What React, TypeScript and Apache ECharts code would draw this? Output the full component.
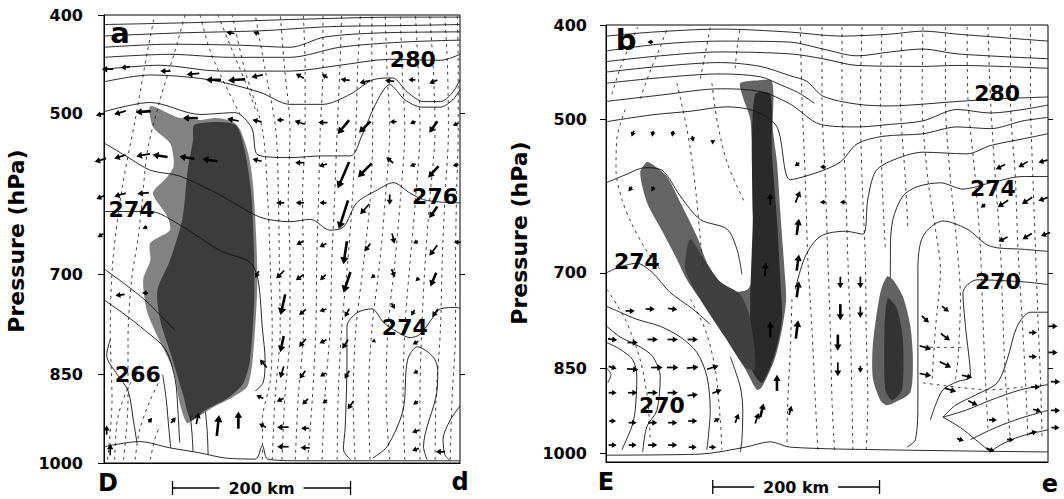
import React, { useEffect, useRef } from "react";
import * as echarts from "echarts";

type Pt = [number, number];
type Arrow = [number, number, number, number];
type Label = [number, number, string];

const KAPPA = 0.286;
const ex = (p: number) => Math.pow(p / 1000, KAPPA);
const unEx = (v: number) => 1000 * Math.pow(v, 1 / KAPPA);

const PRESSURE_TICKS = [400, 500, 700, 850, 1000];
const RIGHT_TICKS = [500, 700, 850];
const P_TOP = 400;
const P_BOTTOM_A = 1000;
const P_BOTTOM_B = 1017;
const X_MAX_A = 400; // km
const X_MAX_B = 530; // km
const SCALE_KM = 200;
const SCALE_START_A = 77;
const SCALE_START_B = 128;

// ---------- panel a (section D-d) ----------
const A_SOLID: Pt[][] = [
  [[0, 409], [108, 407], [220, 404], [333, 402], [400, 402]],
  [[0, 420], [85, 417], [175, 415], [254, 411], [333, 410], [400, 409]],
  [[0, 431], [74, 428], [153, 429], [209, 431], [248, 421], [310, 417], [400, 416]],
  [[0, 441], [74, 438], [142, 441], [209, 441], [265, 431], [333, 426], [400, 424]],
  [[0, 453], [63, 449], [130, 455], [209, 455], [265, 449], [321, 443], [378, 444], [400, 438]],
  [[0, 466], [52, 459], [119, 464], [175, 477], [209, 490], [246, 490], [277, 479], [302, 464], [324, 462], [341, 477], [359, 487], [378, 487], [391, 478], [400, 464]],
  [[0, 498], [52, 488], [108, 501], [147, 499], [166, 516], [173, 547], [209, 550], [246, 548], [277, 548], [290, 524], [305, 490], [321, 469], [338, 485], [357, 493], [378, 493], [392, 485], [400, 474]],
  [[0, 533], [26, 549], [52, 565], [85, 572], [130, 595], [175, 623], [209, 629], [232, 626], [254, 640], [269, 636], [284, 605], [307, 589], [325, 580], [344, 593], [359, 601], [378, 604], [400, 605]],
  [[0, 616], [52, 616], [85, 633], [130, 667], [164, 683], [173, 707], [178, 779], [181, 827], [179, 862], [170, 876]],
  [[277, 994], [269, 976], [271, 937], [273, 827], [273, 775], [284, 755], [301, 749], [314, 769], [329, 783], [344, 792], [355, 787], [370, 761], [378, 749], [397, 747], [400, 749]],
  [[302, 991], [318, 971], [336, 908], [341, 827], [352, 806], [370, 822], [375, 843], [374, 878], [359, 971], [363, 994]],
  [[400, 901], [389, 925], [381, 958], [383, 985], [389, 996]],
  [[0, 692], [24, 714], [46, 736], [63, 758], [80, 781]],
  [[0, 736], [24, 758], [46, 781], [69, 810], [80, 858], [83, 908], [85, 964]],
  [[7, 795], [3, 819], [15, 850], [27, 876], [33, 925], [37, 964]],
  [[66, 850], [70, 891], [73, 942], [75, 973]],
  [[97, 917], [99, 950], [100, 980]],
  [[114, 911], [116, 945], [117, 985]],
];
const A_GROUND: Pt[] = [[0, 971], [40, 962], [74, 973], [108, 982], [136, 991], [170, 993], [178, 969], [184, 993], [220, 996], [333, 996], [400, 996]];
const A_DASHED: Pt[][] = [
  [[4, 994], [9, 891], [7, 779], [10, 681], [20, 589], [35, 507], [49, 434], [57, 400]],
  [[22, 994], [27, 891], [27, 795], [31, 707], [38, 653], [43, 601], [49, 541], [63, 485], [80, 434], [91, 400]],
  [[52, 994], [57, 958], [63, 934]],
  [[12, 994], [15, 925], [24, 881], [40, 835]],
  [[35, 994], [40, 942], [52, 891], [63, 858]],
  [[108, 400], [119, 434], [136, 469], [153, 501]],
  [[128, 400], [144, 434], [160, 469], [171, 498]],
  [[178, 994], [178, 925], [187, 858], [189, 779], [187, 694], [184, 601], [178, 518], [158, 453], [144, 400]],
  [[189, 994], [192, 891], [198, 779], [197, 681], [196, 601], [193, 518], [181, 453], [170, 400]],
  [[200, 994], [203, 891], [209, 779], [209, 681], [207, 601], [209, 518], [203, 453], [198, 400]],
  [[215, 994], [218, 891], [224, 779], [224, 681], [223, 601], [226, 518], [226, 453], [224, 400]],
  [[229, 994], [234, 891], [238, 779], [239, 681], [241, 601], [243, 518], [246, 453], [246, 400]],
  [[245, 994], [248, 891], [254, 779], [256, 681], [259, 601], [262, 518], [265, 453], [267, 400]],
  [[262, 994], [263, 891], [267, 779], [274, 681], [279, 601], [283, 518], [285, 453], [288, 400]],
  [[282, 994], [280, 891], [283, 779], [292, 681], [299, 601], [302, 518], [301, 453], [301, 400]],
  [[299, 994], [297, 891], [301, 779], [310, 681], [316, 601], [321, 518], [318, 453], [316, 400]],
  [[321, 994], [317, 891], [319, 779], [327, 681], [333, 601], [338, 518], [335, 453], [333, 400]],
  [[338, 994], [336, 891], [338, 779], [344, 681], [350, 601], [355, 518], [353, 453], [350, 400]],
  [[355, 994], [355, 891], [357, 779], [361, 681], [366, 601], [372, 518], [370, 453], [366, 400]],
  [[372, 994], [373, 891], [378, 779], [380, 681], [383, 601], [387, 518], [386, 453], [383, 400]],
  [[389, 994], [391, 891], [395, 779], [395, 681], [396, 601], [398, 518], [398, 453], [397, 400]],
];
const A_SHADE_OUTER: Pt[] = [[52, 492], [82, 504], [108, 507], [127, 505], [145, 509], [153, 518], [162, 545], [167, 577], [170, 626], [172, 681], [172, 726], [167, 827], [161, 869], [145, 886], [123, 903], [100, 925], [93, 930], [85, 896], [78, 843], [60, 790], [48, 751], [44, 707], [52, 681], [52, 657], [74, 640], [71, 622], [55, 593], [71, 573], [78, 561], [78, 549], [74, 533], [55, 515]];
const A_SHADE_INNER: Pt[] = [[102, 512], [147, 512], [158, 541], [166, 601], [169, 722], [164, 827], [156, 865], [139, 888], [114, 908], [98, 925], [89, 883], [76, 821], [63, 765], [60, 722], [74, 681], [88, 626], [94, 565], [100, 530]];
const A_ARROWS: Arrow[] = [
  [4, 453, -10, 0], [24, 451, -8, -1], [69, 455, -9, 0], [100, 458, -11, -1], [123, 464, -13, 0], [149, 464, -15, -1], [172, 460, -10, -2],
  [142, 417, -7, 1], [171, 417, -5, 2], [220, 460, -7, 4], [248, 460, -5, 3], [271, 464, -8, 1], [293, 466, -9, -2], [321, 465, -8, 1], [346, 464, -6, 0], [370, 466, -7, -3],
  [-4, 501, -8, -2], [18, 499, -10, -3], [44, 498, -13, -1], [97, 505, -13, 0], [145, 507, -10, 2], [172, 508, -8, 2], [198, 507, -6, 0],
  [220, 510, -9, 3], [246, 510, -8, 0], [269, 515, -10, -12], [293, 515, -10, -10], [325, 509, -6, 0], [347, 510, -5, -2], [370, 515, -7, -10], [395, 512, -5, -2],
  [-4, 553, -10, -3], [18, 549, -10, -3], [44, 547, -12, -2], [63, 548, -13, 2], [93, 550, -13, 2], [119, 553, -13, 2], [172, 553, -8, 2],
  [220, 556, -8, 0], [246, 559, -7, -2], [269, 571, -10, -23], [293, 565, -12, -12], [321, 553, -6, 5], [347, 559, -5, -2], [370, 567, -9, -10], [395, 559, -5, -1],
  [-4, 598, -7, -3], [18, 595, -10, -3], [44, 593, -10, -1], [198, 605, -7, 0],
  [220, 605, -7, 0], [246, 605, -6, 0], [269, 620, -8, -25], [293, 613, -8, -9], [321, 601, 0, -9], [370, 617, -7, -10],
  [-4, 647, -5, -3], [46, 637, -4, -2], [220, 657, -6, -3], [246, 660, -6, -3], [271, 670, -3, -20], [296, 663, -5, -7], [325, 651, 2, -9], [350, 656, -4, -2], [370, 667, -7, -9], [397, 656, -6, 0],
  [220, 704, -7, -5], [246, 704, -5, -5], [273, 711, -6, -18], [302, 703, -3, -3], [325, 698, 3, -7], [352, 707, -3, -3], [370, 707, -5, -12], [172, 700, -3, -6], [198, 700, -7, -7],
  [18, 729, -8, -1], [46, 726, -5, 0],
  [223, 754, -6, -5], [246, 751, -6, -2], [273, 755, -4, -7], [325, 745, 3, -5], [347, 755, -3, -5], [372, 755, -5, -7], [201, 743, -4, -18],
  [223, 800, -6, -7], [246, 798, -6, -3], [271, 802, -5, -8], [302, 798, -2, -1], [350, 800, -5, -3], [200, 802, -3, -14], [179, 832, -6, 7],
  [223, 850, -5, -7], [246, 850, -5, -3], [273, 850, -4, -7], [350, 846, -4, -2], [200, 846, -3, -10],
  [226, 894, -5, -5], [248, 894, -4, -3], [277, 900, -5, -7], [350, 896, -4, -3], [175, 886, -6, 3], [198, 891, -6, -3],
  [226, 939, -7, 0], [350, 944, -6, -2], [201, 937, -10, 0], [178, 934, -6, 3],
  [226, 973, -8, 0], [350, 976, -6, -2], [201, 971, -10, 0], [378, 980, -8, 0],
  [128, 934, 2, 18], [151, 925, 0, 15], [105, 922, 2, 10], [3, 942, 0, 8], [52, 925, 3, 4], [78, 925, 4, 5], [7, 976, 0, 10],
];
const A_LABELS: Label[] = [[347, 443, "280"], [372, 597, "276"], [31, 614, "274"], [38, 850, "266"], [338, 777, "274"]];

// ---------- panel b (section E-e) ----------
const B_SOLID: Pt[][] = [
  [[0, 411], [56, 407], [137, 404], [221, 407], [281, 411], [341, 409], [380, 406], [421, 409], [530, 416]],
  [[0, 426], [65, 419], [137, 416], [221, 417], [260, 424], [301, 431], [341, 427], [380, 424], [421, 429], [530, 434]],
  [[0, 437], [65, 431], [137, 427], [221, 429], [260, 434], [301, 441], [380, 442], [421, 441], [530, 444]],
  [[0, 448], [65, 442], [137, 438], [185, 442], [221, 452], [241, 458], [260, 474], [301, 483], [341, 485], [380, 483], [421, 480], [473, 477], [530, 475]],
  [[0, 460], [65, 454], [137, 450], [185, 453], [210, 462], [230, 470], [250, 482]],
  [[0, 480], [65, 473], [137, 466], [185, 469], [221, 483], [257, 506], [301, 509], [341, 506], [380, 502], [421, 489], [461, 493], [500, 489], [530, 484]],
  [[0, 503], [56, 495], [101, 491], [145, 486], [179, 491], [205, 509], [221, 573], [253, 564], [281, 551], [301, 529], [332, 520], [380, 517], [421, 509], [461, 511], [500, 502], [530, 498]],
  [[530, 517], [500, 523], [461, 531], [433, 541], [380, 539], [341, 550], [323, 563], [314, 598], [308, 645], [287, 641], [257, 648], [239, 676], [227, 724]],
  [[0, 577], [23, 567], [47, 558], [67, 561], [89, 594], [113, 625], [145, 638], [157, 666], [163, 702]],
  [[530, 569], [500, 569], [461, 577], [428, 585], [401, 577], [373, 582], [356, 594], [344, 625], [341, 666], [341, 707]],
  [[530, 669], [500, 666], [461, 662], [433, 638], [404, 627], [380, 648], [374, 695], [374, 786], [374, 904], [371, 975], [361, 989]],
  [[530, 717], [500, 713], [445, 710], [428, 729], [431, 781], [437, 863], [421, 872], [404, 886], [395, 913], [389, 939]],
  [[530, 759], [509, 759], [493, 781], [481, 835], [469, 874], [443, 895], [419, 913], [404, 934]],
  [[530, 877], [497, 886], [461, 904], [431, 922], [404, 934]],
  [[530, 922], [497, 936], [467, 953], [437, 975]],
  [[404, 934], [425, 953], [443, 975], [461, 998]],
  [[530, 957], [497, 969], [473, 985], [461, 998]],
  [[0, 700], [17, 691], [37, 686], [56, 700], [77, 729], [104, 754], [125, 778]],
  [[1, 750], [17, 759], [37, 770], [65, 781], [89, 798], [109, 823], [121, 863], [125, 922], [121, 994]],
  [[1, 781], [17, 798], [41, 814], [56, 830], [65, 863], [61, 922], [49, 951], [44, 998]],
  [[1, 807], [17, 818], [32, 835], [37, 863], [35, 922], [31, 951], [19, 994]],
  [[149, 830], [161, 881], [164, 922], [163, 975], [161, 998]],
  [[0, 848], [6, 860], [2, 874]],
];
const B_GROUND: Pt[] = [[0, 1004], [113, 1002], [167, 989], [197, 979], [221, 989], [337, 994], [530, 998]];
const B_DASHED: Pt[][] = [
  [[23, 489], [13, 523], [12, 561], [19, 598], [31, 631], [49, 669], [67, 698]],
  [[85, 460], [96, 506], [103, 548], [108, 591], [112, 638], [116, 688]],
  [[127, 460], [134, 506], [146, 554], [167, 604]],
  [[7, 472], [17, 444], [29, 419], [38, 402]],
  [[41, 477], [53, 447], [65, 422], [74, 402]],
  [[113, 455], [119, 429], [125, 402]],
  [[155, 444], [157, 424], [161, 402]],
  [[233, 402], [235, 477], [239, 573], [242, 680], [247, 786], [251, 904], [254, 994]],
  [[259, 402], [259, 477], [263, 573], [266, 680], [269, 786], [271, 904], [274, 994]],
  [[283, 402], [283, 477], [287, 573], [290, 680], [293, 786], [295, 904], [296, 994]],
  [[307, 402], [305, 477], [307, 573], [311, 680], [312, 786], [314, 904], [312, 994]],
  [[331, 402], [329, 477], [331, 573], [335, 666]],
  [[355, 402], [353, 477], [359, 573], [362, 638]],
  [[380, 402], [379, 477], [386, 573], [395, 638], [401, 695], [395, 786], [391, 868]],
  [[407, 402], [407, 477], [413, 573], [419, 638], [425, 739], [422, 835], [419, 868]],
  [[433, 402], [434, 477], [443, 573], [449, 666], [452, 770], [455, 868], [458, 957]],
  [[458, 402], [461, 477], [467, 573], [473, 666], [476, 770], [479, 868], [485, 975]],
  [[485, 402], [485, 477], [491, 573], [494, 666], [499, 770], [503, 868], [506, 975]],
  [[509, 402], [509, 477], [512, 573], [515, 666], [518, 770], [521, 868], [523, 975]],
  [[380, 814], [407, 815], [428, 815]],
  [[380, 874], [425, 882], [461, 886], [500, 881]],
  [[1, 724], [23, 770], [41, 835], [50, 904], [53, 975]],
  [[101, 739], [119, 786], [131, 851], [137, 939], [139, 994]],
  [[223, 739], [221, 818], [218, 904], [217, 985]],
];
const B_SHADE_OUTER: Pt[] = [[49, 551], [56, 554], [73, 569], [89, 602], [109, 648], [121, 685], [134, 710], [152, 727], [170, 724], [179, 695], [176, 615], [175, 551], [173, 500], [163, 472], [161, 460], [179, 457], [199, 458], [200, 511], [205, 551], [209, 615], [214, 695], [216, 739], [211, 786], [202, 835], [187, 881], [181, 886], [169, 856], [149, 807], [121, 754], [97, 710], [85, 680], [68, 642], [49, 602], [41, 564]];
const B_SHADE_INNER: Pt[] = [[179, 472], [197, 472], [199, 541], [205, 625], [209, 710], [211, 770], [202, 827], [187, 874], [175, 851], [173, 739], [176, 625], [175, 541]];
const B_SHADE_INNER2: Pt[] = [[101, 652], [119, 683], [137, 713], [161, 732], [173, 770], [179, 851], [167, 848], [143, 799], [113, 739], [95, 695]];
const B_BLOB_OUTER: Pt[] = [[337, 705], [344, 710], [356, 735], [365, 781], [368, 835], [365, 890], [349, 906], [337, 913], [329, 904], [320, 866], [320, 810], [329, 729]];
const B_BLOB_INNER: Pt[] = [[338, 738], [349, 754], [356, 802], [355, 886], [343, 904], [335, 886], [334, 786]];
const B_ARROWS: Arrow[] = [
  [29, 757, 8, 0], [53, 754, 8, 0], [80, 754, 8, -1],
  [8, 802, 8, -1], [32, 807, 9, 0], [56, 802, 9, 0], [80, 802, 9, 0], [104, 802, 9, 0],
  [8, 848, 7, -2], [32, 851, 10, -1], [61, 848, 10, 0], [80, 848, 10, 0], [104, 848, 10, 1], [128, 848, 10, 3],
  [8, 891, 7, 0], [32, 891, 8, 0], [56, 891, 9, 0], [80, 891, 9, 0], [104, 895, 9, 1], [133, 889, 8, 3],
  [8, 941, 6, 0], [32, 944, 7, 0], [56, 944, 8, 0], [80, 944, 8, 0], [104, 941, 8, 0], [133, 939, 5, 3], [157, 936, 3, 8], [181, 936, 3, 9],
  [8, 985, 7, 0], [32, 985, 7, 0], [56, 985, 8, 0], [80, 985, 8, 0], [104, 989, 7, 0], [128, 989, 6, 0],
  [205, 874, 0, 14], [187, 922, 3, 12], [197, 786, 0, 14], [191, 695, 1, 12], [197, 598, 0, 10], [230, 724, 2, 14], [229, 786, 2, 16], [230, 635, 2, 14], [230, 685, 2, 14], [230, 595, 4, 10], [221, 922, 2, 8],
  [281, 714, 0, -10], [305, 714, 0, -10], [281, 759, 0, -14], [305, 759, 0, -10], [278, 807, 0, -14], [278, 851, 0, -12], [305, 851, 0, -6],
  [383, 770, 6, -6], [407, 754, 6, -5], [407, 798, 8, -6], [383, 815, 10, -3], [407, 843, 10, -5], [383, 860, 10, -2], [413, 886, 10, -3], [433, 863, 9, -2], [440, 909, 8, -4],
  [512, 791, 7, 0], [536, 781, 8, 0], [512, 830, 7, 0], [536, 823, 8, 0], [515, 881, 8, 0], [539, 872, 8, 0], [517, 922, 7, -2], [539, 922, 8, 0], [512, 962, 7, 2], [539, 953, 7, 0], [464, 939, 7, 0], [461, 994, 7, -3], [485, 975, 6, 0], [425, 975, 6, -2],
  [473, 557, -8, -4], [500, 554, -8, -5], [524, 550, -8, -2],
  [452, 607, -4, -3], [476, 604, -9, -6], [505, 600, -9, -6], [524, 598, -8, -3],
  [476, 652, -8, -4], [505, 648, -8, -5], [527, 645, -8, -3],
  [229, 554, -4, -3], [260, 557, -5, 0], [284, 602, -5, 0], [260, 602, -5, 0],
  [32, 517, -2, -5], [56, 517, -1, -5], [80, 517, -1, -5], [104, 523, 1, -5], [128, 527, 0, -4], [29, 585, -3, -4], [56, 585, -2, -4], [53, 417, -5, 0],
];
const B_LABELS: Label[] = [[469, 471, "280"], [464, 584, "274"], [37, 683, "274"], [67, 913, "270"], [470, 713, "270"]];

const FONT = "DejaVu Sans";
const ARROW_SCALE = 1.15;

function lineSeries(lines: Pt[][], gi: number, dashed: boolean): any[] {
  return lines.map((l) => ({
    type: "line",
    xAxisIndex: gi,
    yAxisIndex: gi,
    data: l.map(([x, p]) => [x, ex(p)]),
    showSymbol: false,
    symbol: "none",
    smooth: 0.3,
    silent: true,
    clip: true,
    z: dashed ? 3 : 4,
    lineStyle: {
      color: dashed ? "#2a2a2a" : "#111",
      width: dashed ? 0.9 : 0.9,
      type: dashed ? [3, 4] : "solid",
    },
  }));
}

function polySeries(poly: Pt[], gi: number, color: string, z: number): any {
  return {
    type: "custom",
    xAxisIndex: gi,
    yAxisIndex: gi,
    silent: true,
    z,
    data: [[poly[0][0], ex(poly[0][1])]],
    encode: { x: 0, y: 1 },
    renderItem: (_p: any, api: any) => ({
      type: "polygon",
      shape: { points: poly.map(([x, p]) => api.coord([x, ex(p)])), smooth: 0.25 },
      style: { fill: color },
    }),
  };
}

function arrowSeries(arrows: Arrow[], gi: number): any {
  return {
    type: "custom",
    xAxisIndex: gi,
    yAxisIndex: gi,
    silent: true,
    clip: false,
    z: 5,
    data: arrows.map(([x, p, u, w]) => [x, ex(p), u, w]),
    encode: { x: 0, y: 1 },
    renderItem: (_p: any, api: any) => {
      const c = api.coord([api.value(0), api.value(1)]);
      const u = (api.value(2) as number) * ARROW_SCALE;
      const w = (api.value(3) as number) * ARROW_SCALE;
      const len = Math.hypot(u, w) || 1;
      const dx = u, dy = -w;
      const x0 = c[0] - dx / 2, y0 = c[1] - dy / 2;
      const x1 = c[0] + dx / 2, y1 = c[1] + dy / 2;
      const ux = dx / len, uy = dy / len;
      const h = Math.min(7, 3.4 + len * 0.17);
      const hw = h * 0.6;
      const bx = x1 - ux * h, by = y1 - uy * h;
      const lw = len > 14 ? 2.6 : 1.7;
      return {
        type: "group",
        children: [
          { type: "line", shape: { x1: x0, y1: y0, x2: bx + ux, y2: by + uy }, style: { stroke: "#000", lineWidth: lw } },
          {
            type: "polygon",
            shape: { points: [[x1, y1], [bx - uy * hw, by + ux * hw], [bx + uy * hw, by - ux * hw]] },
            style: { fill: "#000" },
          },
        ],
      };
    },
  };
}

function labelSeries(labels: Label[], gi: number): any {
  return {
    type: "custom",
    xAxisIndex: gi,
    yAxisIndex: gi,
    silent: true,
    clip: false,
    z: 7,
    data: labels.map(([x, p, t]) => [x, ex(p), t]),
    encode: { x: 0, y: 1 },
    renderItem: (_p: any, api: any) => {
      const c = api.coord([api.value(0), api.value(1)]);
      return {
        type: "text",
        x: c[0],
        y: c[1],
        style: {
          text: String(api.value(2)),
          fill: "#000",
          fontSize: 22,
          fontWeight: "bold",
          fontFamily: FONT,
          align: "center",
          verticalAlign: "middle",
        },
      };
    },
  };
}

function scaleBarSeries(gi: number, startKm: number, pBottom: number): any {
  return {
    type: "custom",
    xAxisIndex: gi,
    yAxisIndex: gi,
    silent: true,
    clip: false,
    z: 7,
    data: [[startKm, ex(pBottom)]],
    encode: { x: 0, y: 1 },
    renderItem: (_p: any, api: any) => {
      const a = api.coord([startKm, ex(pBottom)]);
      const b = api.coord([startKm + SCALE_KM, ex(pBottom)]);
      const y = a[1] + 25;
      const mid = (a[0] + b[0]) / 2;
      const half = 42;
      const st = { stroke: "#000", lineWidth: 1.3 };
      return {
        type: "group",
        children: [
          { type: "line", shape: { x1: a[0], y1: y, x2: mid - half, y2: y }, style: st },
          { type: "line", shape: { x1: mid + half, y1: y, x2: b[0], y2: y }, style: st },
          { type: "line", shape: { x1: a[0], y1: y - 7, x2: a[0], y2: y + 7 }, style: st },
          { type: "line", shape: { x1: b[0], y1: y - 7, x2: b[0], y2: y + 7 }, style: st },
          {
            type: "text",
            x: mid,
            y,
            style: {
              text: `${SCALE_KM} km`,
              fill: "#000",
              fontSize: 16,
              fontWeight: "bold",
              fontFamily: FONT,
              align: "center",
              verticalAlign: "middle",
            },
          },
        ],
      };
    },
  };
}

function leftYAxis(gi: number, pBottom: number, margin: number): any {
  return {
    type: "value",
    gridIndex: gi,
    position: "left",
    inverse: true,
    min: ex(P_TOP),
    max: ex(pBottom),
    axisLine: { show: true, lineStyle: { color: "#000", width: 1 } },
    axisTick: {
      show: true,
      inside: false,
      length: 6,
      customValues: PRESSURE_TICKS.map(ex),
      lineStyle: { color: "#000", width: 1 },
    },
    axisLabel: {
      show: true,
      customValues: PRESSURE_TICKS.map(ex),
      formatter: (v: number) => String(Math.round(unEx(v))),
      margin,
      color: "#000",
      fontSize: 16,
      fontWeight: "bold",
      fontFamily: FONT,
      showMinLabel: true,
      showMaxLabel: true,
    },
    splitLine: { show: false },
  };
}

function rightYAxis(gi: number, pBottom: number): any {
  return {
    type: "value",
    gridIndex: gi,
    position: "right",
    inverse: true,
    min: ex(P_TOP),
    max: ex(pBottom),
    axisLine: { show: false },
    axisTick: { show: true, inside: false, length: 5, customValues: RIGHT_TICKS.map(ex), lineStyle: { color: "#000" } },
    axisLabel: { show: false },
    splitLine: { show: false },
  };
}

function xAxis(gi: number, max: number): any {
  return {
    type: "value",
    gridIndex: gi,
    min: 0,
    max,
    axisLine: { show: true, onZero: false, lineStyle: { color: "#000", width: 1 } },
    axisTick: { show: false },
    axisLabel: { show: false },
    splitLine: { show: false },
  };
}

const txt = (text: string, x: number, y: number, size: number, rot = 0): any => ({
  type: "text",
  x,
  y,
  rotation: rot,
  style: {
    text,
    fill: "#000",
    fontSize: size,
    fontWeight: "bold",
    fontFamily: FONT,
    align: "center",
    verticalAlign: "middle",
  },
  z: 10,
});

export default function App() {
  const ref = useRef<HTMLDivElement>(null);
  useEffect(() => {
    if (!ref.current) return;
    const chart = echarts.init(ref.current, null, { renderer: "svg" });
    const option: any = {
      animation: false,
      backgroundColor: "#fff",
      textStyle: { fontFamily: FONT },
      grid: [
        { left: 104, top: 15, width: 356, height: 448, show: true, borderColor: "#000", borderWidth: 1 },
        { left: 606, top: 25, width: 442, height: 437, show: true, borderColor: "#000", borderWidth: 1 },
      ],
      xAxis: [xAxis(0, X_MAX_A), xAxis(1, X_MAX_B)],
      yAxis: [
        leftYAxis(0, P_BOTTOM_A, 21),
        leftYAxis(1, P_BOTTOM_B, 19),
        rightYAxis(0, P_BOTTOM_A),
        rightYAxis(1, P_BOTTOM_B),
      ],
      series: [
        polySeries(A_SHADE_OUTER, 0, "#828282", 1),
        polySeries(A_SHADE_INNER, 0, "#3c3c3c", 2),
        polySeries(B_SHADE_OUTER, 1, "#646464", 1),
        polySeries(B_SHADE_INNER, 1, "#2a2a2a", 2),
        polySeries(B_SHADE_INNER2, 1, "#404040", 2),
        polySeries(B_BLOB_OUTER, 1, "#626262", 1),
        polySeries(B_BLOB_INNER, 1, "#333", 2),
        ...lineSeries(A_DASHED, 0, true),
        ...lineSeries(B_DASHED, 1, true),
        ...lineSeries(A_SOLID, 0, false),
        ...lineSeries(B_SOLID, 1, false),
        ...lineSeries([A_GROUND], 0, false),
        ...lineSeries([B_GROUND], 1, false),
        arrowSeries(A_ARROWS, 0),
        arrowSeries(B_ARROWS, 1),
        labelSeries(A_LABELS, 0),
        labelSeries(B_LABELS, 1),
        scaleBarSeries(0, SCALE_START_A, P_BOTTOM_A),
        scaleBarSeries(1, SCALE_START_B, P_BOTTOM_B),
      ],
      graphic: [
        txt("Pressure (hPa)", 16, 241, 22, Math.PI / 2),
        txt("Pressure (hPa)", 519, 233, 22, Math.PI / 2),
        txt("a", 120, 33, 29),
        txt("b", 626, 40, 29),
        txt("D", 108, 483, 24),
        txt("d", 460, 482, 24),
        txt("E", 606, 482, 24),
        txt("e", 1050, 484, 24),
      ],
    };
    chart.setOption(option);
    return () => chart.dispose();
  }, []);
  return (
    <div
      ref={ref}
      style={{ position: "absolute", left: 0, top: 0, width: 1064, height: 499, background: "#fff" }}
    />
  );
}
